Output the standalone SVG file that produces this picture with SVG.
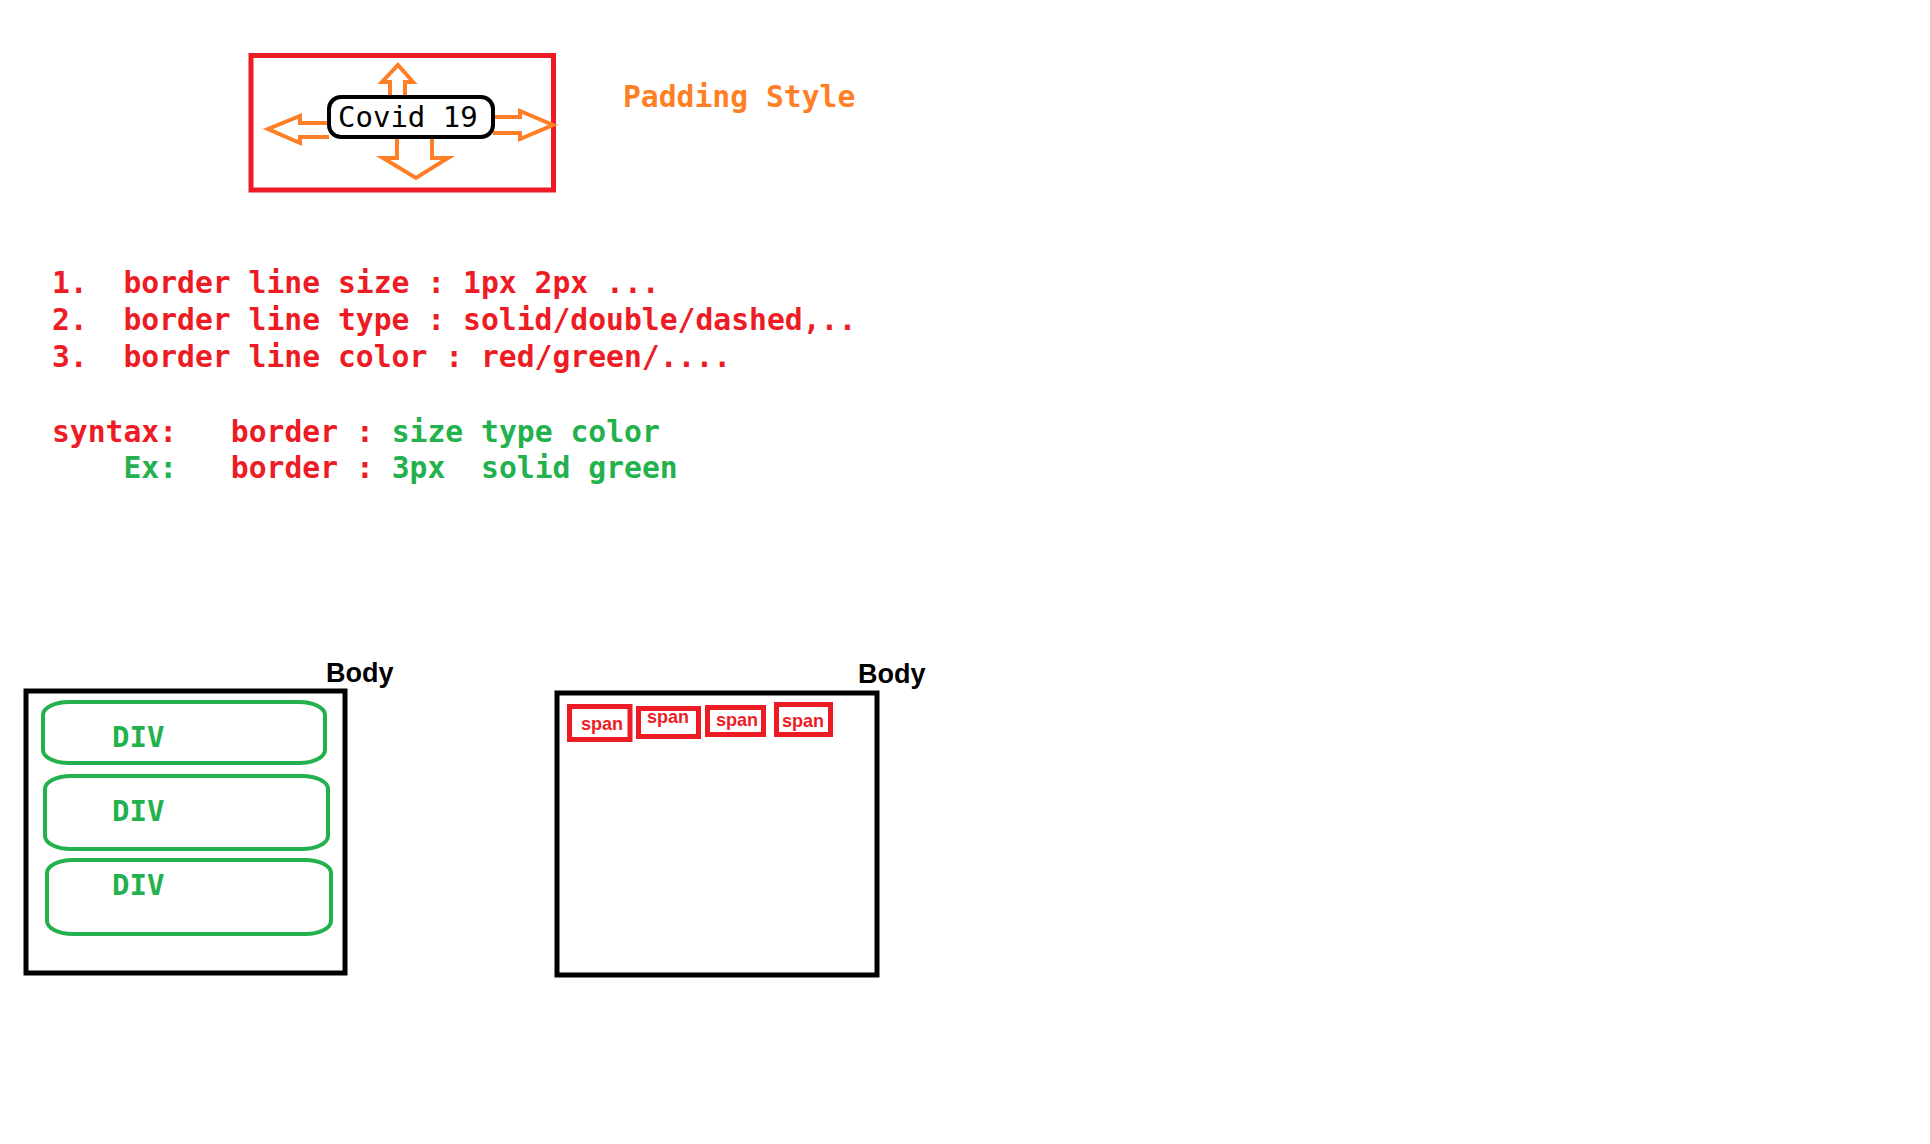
<svg xmlns="http://www.w3.org/2000/svg" width="1930" height="1144" viewBox="0 0 1930 1144">
<style>
.mono{font-family:"DejaVu Sans Mono","Liberation Mono",monospace}
.b{font-weight:bold}
.red{fill:#ED1C24}
.green{fill:#22B14C}
.orange{fill:#FF7F27}
.redbox{fill:none;stroke:#ED1C24;stroke-width:5}
.blackbox{fill:none;stroke:#000;stroke-width:5}
.divbox{fill:none;stroke:#22B14C;stroke-width:4}
.arrow{fill:#fff;stroke:#FF7F27;stroke-width:4;stroke-linejoin:miter}
.sans{font-family:"Liberation Sans",Arial,sans-serif;font-weight:bold}
.span{fill:#ED1C24;font-size:19px}
</style>
<rect width="1930" height="1144" fill="#fff"/>
<g id="padding-frame"><rect class="redbox" x="251" y="55.5" width="302.5" height="134.5"/></g>
<g id="connectors"><path class="arrow" d="M390,97 L390,82 L382,82 L398,65 L413,82 L405,82 L405,97"/><path class="arrow" d="M329,123 L300,123 L300,116 L268,129 L300,143 L300,137 L329,137"/><path class="arrow" d="M493,117 L520,117 L520,111 L553,125 L520,139 L520,133 L493,133"/><path class="arrow" d="M397,137 L397,158 L383,158 L416,178 L448,158 L432,158 L432,137"/></g>
<g id="covid"><rect x="329" y="97" width="164" height="40" rx="12" ry="12" fill="#fff" stroke="#000" stroke-width="4"/><text class="mono" x="338" y="127" font-size="29" fill="#000">Covid 19</text></g>
<g id="padding-style"><text class="mono b orange" x="623" y="107" font-size="29.7">Padding Style</text></g>
<g id="list" class="mono b" font-size="29.7">
<text class="red" y="293"><tspan x="52">1.</tspan><tspan x="123.5">border line size : 1px 2px ...</tspan></text>
<text class="red" y="330"><tspan x="52">2.</tspan><tspan x="123.5">border line type : solid/double/dashed,..</tspan></text>
<text class="red" y="367"><tspan x="52">3.</tspan><tspan x="123.5">border line color : red/green/....</tspan></text>
<text y="442"><tspan class="red" x="52">syntax:</tspan><tspan class="red" x="230.8">border :</tspan><tspan class="green" x="391.7">size type color</tspan></text>
<text y="478"><tspan class="green" x="123.5">Ex:</tspan><tspan class="red" x="230.8">border :</tspan><tspan class="green" x="391.7">3px</tspan><tspan class="green" x="481.1">solid green</tspan></text>
</g>
<g id="body-block"><text class="sans" x="326" y="682" font-size="27" fill="#000">Body</text><rect class="blackbox" x="26" y="691" width="319" height="282"/></g>
<g id="div1"><rect class="divbox" x="43" y="702" width="282" height="61" rx="26" ry="13"/><text class="mono b green" x="112" y="747" font-size="29">DIV</text></g>
<g id="div2"><rect class="divbox" x="45" y="776" width="283" height="73" rx="26" ry="13"/><text class="mono b green" x="112" y="821" font-size="29">DIV</text></g>
<g id="div3"><rect class="divbox" x="47" y="860" width="284" height="74" rx="26" ry="13"/><text class="mono b green" x="112" y="895" font-size="29">DIV</text></g>
<g id="body-inline"><text class="sans" x="858" y="683" font-size="27" fill="#000">Body</text><rect class="blackbox" x="557" y="693" width="320" height="282"/></g>
<g id="span1"><rect class="redbox" x="569.5" y="706.5" width="60.5" height="33"/><text class="sans span" x="581" y="730" textLength="42" lengthAdjust="spacingAndGlyphs">span</text></g>
<g id="span2"><rect class="redbox" x="638.5" y="708.5" width="60" height="28"/><text class="sans span" x="647" y="723" textLength="42" lengthAdjust="spacingAndGlyphs">span</text></g>
<g id="span3"><rect class="redbox" x="707.5" y="707.5" width="56" height="27"/><text class="sans span" x="716" y="726" textLength="42" lengthAdjust="spacingAndGlyphs">span</text></g>
<g id="span4"><rect class="redbox" x="776.5" y="704.5" width="54" height="30"/><text class="sans span" x="782" y="727" textLength="42" lengthAdjust="spacingAndGlyphs">span</text></g>
</svg>
